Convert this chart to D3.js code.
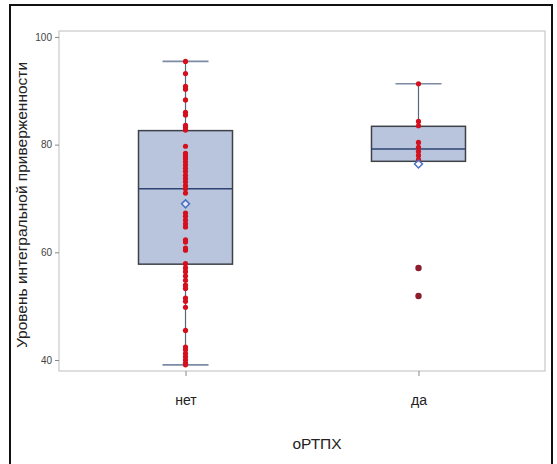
<!DOCTYPE html>
<html><head><meta charset="utf-8">
<script src="https://cdn.jsdelivr.net/npm/d3@7"></script>
<style>body{margin:0;background:#fff}svg{display:block;font-family:"Liberation Sans",Arial,sans-serif}</style>
</head><body><svg id="c" width="557" height="464"></svg>
<script>
const categories = ["нет", "да"];
// box stats: [lowWhisker, q1, median, q3, highWhisker]
const boxStats = [
  [39.1, 57.8, 71.8, 82.6, 95.45],
  [76.9, 76.9, 79.2, 83.4, 91.3]
];
const means = [69.0, 76.4];
const pointsNet = [95.45, 93.2, 90.8, 90.3, 88.3, 86.0, 85.5, 83.6, 83.2, 82.7, 79.7, 78.4, 77.9, 77.4, 76.8, 76.2, 75.6, 75.0, 74.3, 73.7, 73.1, 72.4, 71.8, 71.0, 67.3, 66.7, 66.0, 65.3, 64.7, 62.3, 61.9, 60.8, 60.4, 57.9, 57.1, 56.4, 55.6, 54.8, 53.9, 53.3, 51.5, 50.9, 49.8, 45.5, 42.4, 41.9, 41.2, 40.6, 40.0, 39.4, 39.1];
const pointsDa = [91.3, 84.3, 83.5, 80.4, 79.5, 78.7, 78.0, 77.2];
const outliersDa = [57.1, 51.9];
const yTicks = [40, 60, 80, 100];
const yLabel = "Уровень интегральной приверженности";
const xLabel = "оРТПХ";

const svg = d3.select("#c");
const L = 59, R = 545, T = 31, B = 371;

// outer black border
svg.append("rect").attr("x", 10).attr("y", 5).attr("width", 542).attr("height", 470)
  .attr("fill", "none").attr("stroke", "#111").attr("stroke-width", 2);

const x = d3.scalePoint().domain(categories).range([L, R]).padding(0.543);
const y = d3.scaleLinear().domain([37.96, 101.1]).range([B, T]);
const boxW = 94, capW = 46;

// frame
svg.append("rect").attr("x", L).attr("y", T).attr("width", R - L).attr("height", B - T)
  .attr("fill", "none").attr("stroke", "#c9c9c9").attr("stroke-width", 1.2);

// y axis
const yAxis = svg.append("g").attr("transform", `translate(${L},0)`)
  .call(d3.axisLeft(y).tickValues(yTicks).tickSize(4).tickPadding(3));
yAxis.select(".domain").remove();
yAxis.selectAll("line").attr("stroke", "#888");
yAxis.selectAll("text").attr("fill", "#444").attr("font-size", 10);

// x axis
const xAxis = svg.append("g").attr("transform", `translate(0,${B})`)
  .call(d3.axisBottom(x).tickSize(5).tickPadding(19));
xAxis.select(".domain").remove();
xAxis.selectAll("line").attr("stroke", "#888");
xAxis.selectAll("text").attr("fill", "#222").attr("font-size", 14);

// labels
svg.append("text").attr("transform", `translate(27,${(T + B) / 2 + 4}) rotate(-90)`)
  .attr("text-anchor", "middle").attr("font-size", 15.5).attr("fill", "#222").text(yLabel);
svg.append("text").attr("x", (L + R) / 2 + 15).attr("y", 449)
  .attr("text-anchor", "middle").attr("font-size", 15.5).attr("fill", "#222").text(xLabel);

// boxes
categories.forEach((c, i) => {
  const [lo, q1, med, q3, hi] = boxStats[i];
  const cx = x(c);
  const g = svg.append("g");
  g.append("line").attr("x1", cx).attr("x2", cx).attr("y1", y(hi)).attr("y2", y(q3))
    .attr("stroke", "#55677d").attr("stroke-width", 1.2);
  g.append("line").attr("x1", cx).attr("x2", cx).attr("y1", y(q1)).attr("y2", y(lo))
    .attr("stroke", "#55677d").attr("stroke-width", 1.2);
  if (hi > q3) g.append("line").attr("x1", cx - capW / 2).attr("x2", cx + capW / 2)
    .attr("y1", y(hi)).attr("y2", y(hi)).attr("stroke", "#7d8aa3").attr("stroke-width", 1.6);
  if (lo < q1) g.append("line").attr("x1", cx - capW / 2).attr("x2", cx + capW / 2)
    .attr("y1", y(lo)).attr("y2", y(lo)).attr("stroke", "#7d8aa3").attr("stroke-width", 1.6);
  g.append("rect").attr("x", cx - boxW / 2).attr("y", y(q3)).attr("width", boxW)
    .attr("height", y(q1) - y(q3)).attr("fill", "#b8c5dd").attr("stroke", "#3e4148").attr("stroke-width", 1.5);
  g.append("line").attr("x1", cx - boxW / 2).attr("x2", cx + boxW / 2)
    .attr("y1", y(med)).attr("y2", y(med)).attr("stroke", "#2f4373").attr("stroke-width", 1.5);
});

// points
const drawPts = (vals, c, fill, r) => svg.append("g").selectAll("circle").data(vals).join("circle")
  .attr("cx", x(c)).attr("cy", d => y(d)).attr("r", r).attr("fill", fill);
drawPts(pointsNet, "нет", "#d4101f", 2.6);
drawPts(pointsDa, "да", "#d4101f", 2.6);
drawPts(outliersDa, "да", "#8e1c2c", 3.2);

// means (diamond)
categories.forEach((c, i) => {
  svg.append("path").attr("d", d3.symbol(d3.symbolDiamond2, 40)())
    .attr("transform", `translate(${x(c)},${y(means[i])})`)
    .attr("fill", "#fff").attr("fill-opacity", 0.6).attr("stroke", "#4b72c2").attr("stroke-width", 1.5);
});
</script></body></html>
